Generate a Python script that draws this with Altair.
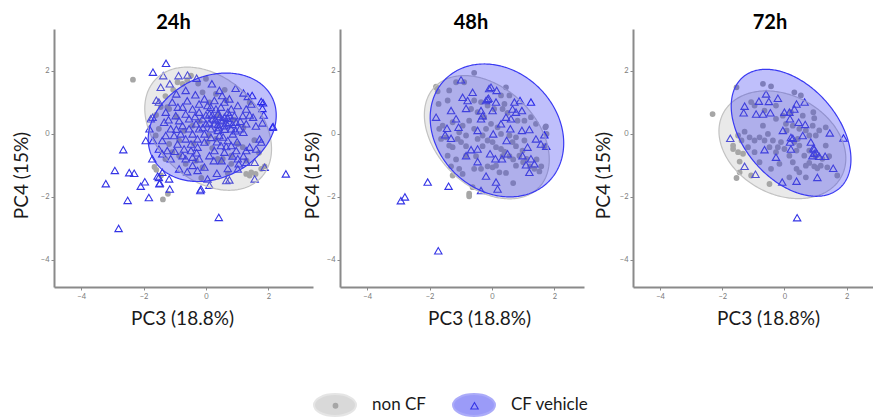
import numpy as np
import pandas as pd
import altair as alt

GROUPS = ["non CF", "CF vehicle"]
PT_KEYS = ["p_nonCF", "p_CFveh"]
TIMES = ["24h", "48h", "72h"]

# ---------------- 24h ----------------
nc24_x = [-2.34, -1.59, -1.38, -1.22, -1.44, -1.65, 1.29, 1.40, 1.59, 1.77, 1.88, 0.81, 0.54, 0.38, -0.11,
          -1.18, -1.24, -0.75, -0.91, -0.48, -0.11, 0.32, 0.11, 0.65, 1.40, -1.51, -1.61, -0.86, -0.43, 0.05,
          0.32, 1.02, 1.18, 0.81, -0.32, -0.65, -0.86, -1.08, -1.18, -1.45, 1.45, 0.48, -0.60, -0.25, -1.05,
          -1.30, -1.60, -0.95, -0.20, 0.40, 0.90, 1.20, 1.55, 1.70, 1.30, 0.20, -0.40, -1.30, 0.60, 0.00,
          -0.70, 0.70, -0.15, 0.10]
nc24_y = [1.72, -1.14, -2.08, -1.90, -1.32, -1.05, -1.27, -1.32, -1.27, -1.11, -1.03, -0.95, -0.79, -0.79, -1.06,
          0.79, 0.85, 1.59, 1.64, 1.85, 1.32, 1.27, 1.00, 1.06, 1.00, 0.16, -0.05, -0.21, 0.26, -0.26,
          -0.16, -0.32, -0.42, -0.69, -0.85, -0.95, -0.69, -0.58, -0.32, 0.85, -1.22, -0.85, 1.70, 1.60, 1.40,
          1.20, 0.60, 0.55, 0.40, 0.60, 0.45, 0.20, -0.20, -0.60, -0.85, -0.45, -0.30, -0.80, 1.40, 1.75,
          0.10, -1.25, -1.40, -0.05]
cf24_x = [-1.28, -1.70, -1.37, -0.88, -0.59, -0.30, -1.45, -1.16, -0.95, -0.65, -0.34, 0.19, 0.43, 0.95, 1.20,
          1.48, 1.77, 1.81, 1.85, 1.81, 2.13, 1.72, 1.77, -1.77, -1.81, -1.70, -1.40, -1.08, -0.75, -1.51,
          -1.29, -0.97, -1.34, -1.13, -0.75, -0.54, -0.22, 0.05, 0.27, 0.59, 0.81, 1.02, 1.29, 1.51, 1.29,
          1.08, 0.75, 0.59, 0.38, 0.22, 0.00, -0.22, -0.43, -0.65, -0.91, -1.24, -1.40, -1.13, -0.75, -0.48,
          -0.27, -0.05, 0.16, 0.38, 0.59, 0.86, 0.70, 0.48, 0.27, 0.11, -0.22, -0.43, -0.65, -0.86, -0.27,
          0.05, -0.16, 0.65, 1.02, 1.02, 1.29, 1.56, 1.61, 0.97, 0.81, 0.59, 0.43, 0.81, 0.97, 1.18,
          0.91, 0.70, 0.48, 0.75, 0.52, -0.05, -0.22, -0.43, -0.65, -0.86, -1.02, -0.81, -0.54, -0.32, -0.11,
          0.11, 0.32, 0.27, 0.48, 0.38, 0.16, -0.05, -0.27, -0.48, -0.70, -0.43, -1.29, -1.51, -1.72, -1.40,
          -1.51, -1.18, -1.48, -1.16, 1.88, 1.56, 0.75, 2.56, 2.15, 1.83, 1.34, -0.18, 0.41, 0.11, 1.29,
          1.40, -2.65, -2.92, -3.21, -2.46, -2.30, -2.09, -1.96, -2.51, -2.80, -1.83, -1.55, -1.49, -1.93, -1.71,
          -1.59, 0.55, 0.65, 0.45, 0.70, 0.30, 0.60, 0.85, 0.40, 0.20, 0.75, 0.95, 1.10, 0.10, -0.10,
          0.00, 0.55, 0.35, 1.00, 1.20, 0.65, -0.35, 0.15, 1.40, 1.45, 1.60, -0.60, -0.90, -1.20, -0.95,
          -0.30, 0.25, 0.50, 0.85, 1.20, 1.05, 0.70, 0.35, -0.05, -0.60, -1.00]
cf24_y = [2.24, 1.96, 1.85, 1.85, 1.87, 1.77, 1.48, 1.59, 1.27, 1.38, 1.24, 1.59, 1.38, 1.45, 1.30,
          1.22, 1.03, 0.81, 0.60, 0.35, 0.21, -0.16, -0.26, 0.48, 0.16, -0.21, -0.21, 1.01, 0.85, 1.01,
          0.69, 0.58, 0.37, 0.16, 0.26, 0.48, 0.69, 0.90, 1.06, 1.01, 0.79, 0.90, 0.79, 0.53, 0.32,
          0.16, 0.37, 0.53, 0.63, 0.48, 0.32, 0.16, 0.00, -0.16, -0.32, -0.53, -0.63, -0.79, -0.69, -0.53,
          -0.42, -0.26, -0.11, 0.11, 0.26, 0.00, -0.21, -0.37, -0.53, -0.69, -0.79, -1.00, -0.79, -1.11, -1.16,
          -1.43, -1.75, -1.48, -0.79, -1.11, -0.53, -0.90, -0.48, -0.53, -0.37, -0.58, -0.05, 0.16, 0.37, 0.58,
          0.58, 0.69, 0.85, 1.11, 1.22, 1.11, 0.95, 0.79, 0.63, 0.42, -0.05, 0.00, 0.16, 0.32, 0.48,
          0.63, 0.79, 0.32, 0.42, 0.30, 0.16, 0.00, -0.16, -0.32, -0.48, -0.74, -0.05, -0.48, -0.79, -1.22,
          -1.38, -1.43, -1.56, -1.75, -1.06, -1.43, -1.46, -1.27, 0.23, 0.99, 1.19, -1.80, -2.65, -1.63, -0.90,
          -0.42, -0.50, -1.16, -1.58, -1.23, -1.25, -1.66, -1.52, -2.11, -3.00, -2.02, -1.34, -1.58, -0.21, 0.53,
          1.07, 0.45, 0.35, 0.55, 0.50, 0.45, 0.15, 0.30, 0.20, 0.60, 0.60, 0.10, 0.40, 0.35, 0.20,
          0.60, -0.10, -0.25, -0.25, 0.05, -0.40, 0.55, 0.85, 0.60, 0.95, 0.25, 1.05, 0.85, 0.45, 0.15,
          -0.60, -0.85, -0.85, -0.70, -0.70, -0.95, -1.10, -1.25, -1.05, -1.20, -0.55]

# ---------------- 48h ----------------
nc48_x = [-0.57, -1.79, -1.74, -1.15, -0.89, -1.37, 0.45, 0.56, 0.29, 0.40, -1.42, -1.71, -1.69, -1.58, -1.63,
          -1.47, -1.37, -1.26, -1.10, -0.99, -0.83, -0.73, -0.57, -0.30, -0.19, -0.14, 0.02, 0.13, 0.29, 0.40,
          0.34, 0.56, 0.68, 0.77, 0.88, 1.00, 1.11, 1.22, 1.36, 1.52, 1.58, 1.43, 1.71, 1.75, 1.68,
          1.04, 0.77, 0.56, 0.29, 0.18, -0.03, -0.25, -0.46, -0.67, -0.57, -0.35, -0.14, 0.07, 0.34, 0.50,
          0.82, 1.04, 1.25, 1.41, -1.05, -1.26, -0.94, -0.57, -0.35, -0.14, 0.02, 0.24, 0.45, 0.68, -0.73,
          -0.62, -1.31, -1.15, -1.42, -0.83, -0.51, -1.05, -0.94, -1.26, -0.30, -0.83, 0.77, 0.98, 0.66, 0.13,
          -0.46, -0.73, 1.73, -1.79]
nc48_y = [1.94, 1.48, 1.35, 1.64, 1.64, 1.38, 1.48, 1.22, 1.22, 0.95, 1.06, 0.95, 0.16, 0.26, -0.16,
          -0.11, -0.37, -0.42, -0.16, -0.26, -0.05, 0.42, 0.16, -0.05, 0.16, -0.21, -0.26, -0.42, -0.48, -0.56,
          -0.71, -0.71, -0.81, -1.01, -0.69, -0.90, -0.79, -1.03, -1.11, -1.19, -1.03, -0.81, 0.21, 0.00, -0.39,
          -0.21, -0.11, -0.05, 0.00, 0.21, 0.32, 0.53, 0.69, 0.79, 1.06, 1.01, 0.90, 0.79, 0.79, 0.67,
          0.42, 0.42, 0.53, 0.32, -1.11, -1.32, -1.27, -1.11, -1.11, -1.03, -1.06, -1.22, -1.24, -1.56, -1.90,
          -1.69, -1.03, -0.81, -0.69, -0.69, -0.71, 0.05, 0.26, 0.37, -0.39, -0.39, -0.39, -0.53, -0.26, -1.01,
          -0.16, -1.98, 0.24, 1.50]
cf48_x = [-0.99, -0.03, 0.15, -0.62, -0.94, -0.78, -0.14, -0.19, -0.11, 0.13, 0.72, 0.90, 1.25, -1.31, -0.83,
          -0.35, 0.02, 0.66, 0.77, 0.96, -1.79, -1.15, -0.30, -0.35, 0.45, 0.61, -1.44, -1.07, -0.46, 0.04,
          0.29, 0.59, 0.96, 1.20, 1.41, 1.68, 1.57, 1.74, -1.50, -1.31, 0.47, 1.14, -0.67, -0.46, -0.06,
          -0.83, 0.11, 0.32, 0.50, 0.98, 1.25, -0.46, 1.09, 1.36, -0.19, 1.20, 0.13, 0.18, -0.35, -2.06,
          -1.39, -2.92, -2.79, -1.72, -0.09]
cf48_y = [1.72, 1.48, 1.38, 1.32, 1.16, 1.06, 1.10, 1.06, 1.13, 1.01, 1.01, 1.06, 1.01, 0.74, 0.81,
          0.74, 0.74, 0.79, 0.69, 0.74, 0.53, 0.48, 0.58, 0.48, 0.53, 0.48, 0.18, 0.21, 0.11, 0.00,
          0.32, 0.16, 0.11, 0.14, -0.16, -0.03, -0.32, -0.39, -0.03, -0.14, -0.21, -0.42, -0.50, -0.48, -0.63,
          -0.69, -0.79, -0.79, -0.63, -0.69, -0.79, -0.88, -0.98, -0.95, -1.34, -1.22, -1.53, -1.75, -1.80, -1.53,
          -1.66, -2.12, -2.00, -3.71, 1.44]

# ---------------- 72h ----------------
nc72_x = [-0.69, -0.43, -1.54, 0.32, 0.53, -1.07, -0.96, -0.27, 0.93, 0.96, -2.31, -0.69, -1.28, -1.49, -1.12,
          -0.96, -0.80, -0.64, -0.53, -0.48, -0.37, -0.21, -0.11, -0.27, 0.00, 0.16, 0.27, 0.39, 0.39, 0.64,
          0.69, 0.80, 0.96, 1.06, 1.17, 1.38, 1.70, 1.33, 1.12, 1.33, 1.01, 0.80, 0.69, 0.48, 0.27,
          0.07, -1.65, -1.65, -1.49, -1.33, -1.44, -1.44, -1.54, -1.07, -0.48, 0.16, 0.48, 0.69, -0.43, -0.16,
          -0.80, -0.96, -1.17, -0.27, -0.64, -1.38, -0.05, 0.05, 0.59, 0.91, 0.32, 0.48, 0.80, 1.01, 1.22,
          1.44, 0.21, 0.43]
nc72_y = [1.59, 1.51, 1.48, 1.32, 1.22, 1.01, 0.90, 0.90, 0.69, 0.50, 0.63, 0.26, 0.07, -0.05, -0.11,
          -0.21, -0.11, -0.21, 0.00, -0.42, -0.21, -0.42, -0.26, -0.58, -0.48, -0.69, -0.90, -0.53, -1.11, -0.69,
          -1.01, -0.92, -1.03, -1.09, -1.01, -1.06, -1.32, -0.37, 0.11, 0.21, -0.05, -0.05, 0.11, 0.16, 0.26,
          0.11, -0.37, -0.48, -0.58, -0.63, -0.88, -1.22, -1.40, -1.32, -1.59, -1.38, -1.22, -1.38, -1.11, -0.95,
          -0.90, -0.58, -0.42, 0.48, 0.74, -0.21, 0.58, 0.32, 0.58, 0.26, -0.26, -0.37, -0.53, -0.71, -0.79,
          -0.71, 0.69, -0.16]
cf72_x = [-0.59, -0.82, -0.50, -0.21, -1.28, -1.31, -0.91, -0.69, -0.45, 0.00, 0.16, 0.39, 0.32, 0.65, 0.18,
          0.46, 0.67, -0.05, 0.21, 0.18, 0.59, 0.85, 0.96, 1.03, 0.90, 1.12, 1.31, 1.46, 1.90, -1.74,
          -0.64, -0.27, 0.21, 1.57, -1.28, -0.93, -0.07, 0.39, 1.06, 0.41, 0.27, 0.93, 0.96]
cf72_y = [1.27, 1.04, 1.03, 1.13, 0.88, 0.67, 0.63, 0.63, 0.67, 0.69, 0.69, 0.95, 0.79, 1.01, 0.48,
          0.37, 0.30, 0.11, -0.11, -0.26, -0.05, -0.26, -0.48, -0.60, -0.69, -0.71, -0.71, 0.03, -0.13, -0.14,
          -0.50, -0.74, -0.48, -1.09, -1.03, -1.28, -1.53, -1.50, -1.38, -2.66, -0.14, -0.45, -0.62]

points = {
    "24h": (nc24_x, nc24_y, cf24_x, cf24_y),
    "48h": (nc48_x, nc48_y, cf48_x, cf48_y),
    "72h": (nc72_x, nc72_y, cf72_x, cf72_y),
}

# ellipse parameters: [non CF, CF vehicle]
ell_cx = {"24h": [0.07, 0.20], "48h": [-0.165, 0.16], "72h": [-0.065, 0.215]}
ell_cy = {"24h": [0.165, 0.21], "48h": [-0.105, 0.11], "72h": [-0.345, 0.035]}
ell_a = {"24h": [2.30, 2.14], "48h": [2.31, 2.32], "72h": [2.15, 2.35]}
ell_b = {"24h": [1.63, 1.61], "48h": [1.58, 1.91], "72h": [1.57, 1.50]}
ell_deg = {"24h": [-41.7, 25.6], "48h": [-43.2, -42.9], "72h": [-27.5, -48.1]}

# panel layout
x_domains = {"24h": [-4.87, 3.43], "48h": [-4.87, 2.95], "72h": [-4.87, 2.85]}
widths = {"24h": 259, "48h": 244, "72h": 240}
y_domain = [-4.86, 3.33]
HEIGHT = 258
title_dx = {"24h": -10, "48h": 9, "72h": 17}
xtitle_x = {"24h": 128, "48h": 139, "72h": 135}
ytitle_x = {"24h": -23, "48h": -18, "72h": -20}

FONT = "Lato"


def ellipse_frame(cx, cy, a, b, deg, group, n=160):
    th = np.radians(deg)
    c, s = np.cos(th), np.sin(th)
    A = c * c / a ** 2 + s * s / b ** 2
    B = 2 * s * c * (1 / a ** 2 - 1 / b ** 2)
    C = s * s / a ** 2 + c * c / b ** 2
    xm = np.sqrt(4 * C / (4 * A * C - B * B))
    X = -xm * np.cos(np.linspace(0, np.pi, n))
    disc = np.clip(B * B * X * X - 4 * C * (A * X * X - 1), 0, None)
    yu = (-B * X + np.sqrt(disc)) / (2 * C)
    yl = (-B * X - np.sqrt(disc)) / (2 * C)
    return pd.DataFrame({"x": cx + X, "y": cy + yu, "y2": cy + yl, "group": group})


ELL_PATH = "M -1 0 A 1 0.52 0 1 1 1 0 A 1 0.52 0 1 1 -1 0 Z"

ell_legend = alt.Legend(
    title=None, orient="none", direction="horizontal",
    legendX=259, legendY=354,
    symbolType=ELL_PATH, symbolSize=1764, symbolStrokeWidth=2, symbolOpacity=0.42,
    labelFont=FONT, labelFontSize=17, labelColor="#1a1a1a", labelOffset=15,
    columnPadding=23, zindex=0,
)
pt_legend = alt.Legend(
    title=None, orient="none", direction="horizontal",
    legendX=273, legendY=368,
    labelFont=FONT, labelFontSize=17, labelOpacity=0, labelOffset=0,
    labelExpr="''",
    columnPadding=122, zindex=1, symbolOpacity=1,
)

fill_scale = alt.Scale(domain=GROUPS, range=["#a6a6a6", "#1414f0"])
stroke_scale = alt.Scale(domain=GROUPS, range=["#c2c2c2", "#3a3af2"])


def panel(t):
    ncx, ncy, cfx, cfy = points[t]
    xs = alt.Scale(domain=x_domains[t], nice=False, zero=False)
    ys = alt.Scale(domain=y_domain, nice=False, zero=False)
    xax = alt.Axis(title="PC3 (18.8%)", values=[-4, -2, 0, 2], titleX=xtitle_x[t], titleY=22)
    yax = alt.Axis(title="PC4 (15%)", values=[-4, -2, 0, 2], titleX=ytitle_x[t], titleY=146)

    pts = pd.concat([
        pd.DataFrame({"x": ncx, "y": ncy, "grp": PT_KEYS[0]}),
        pd.DataFrame({"x": cfx, "y": cfy, "grp": PT_KEYS[1]}),
    ], ignore_index=True)
    pt_layer = alt.Chart(pts).mark_point(filled=False, opacity=1).encode(
        x=alt.X("x:Q", scale=xs, axis=xax),
        y=alt.Y("y:Q", scale=ys, axis=yax),
        shape=alt.Shape("grp:N", scale=alt.Scale(domain=PT_KEYS, range=["circle", "triangle-up"]),
                        legend=pt_legend),
        color=alt.Color("grp:N", scale=alt.Scale(domain=PT_KEYS, range=["#a6a6a6", "#3434e6"]),
                        legend=pt_legend),
        size=alt.Size("grp:N", scale=alt.Scale(domain=PT_KEYS, range=[9, 55]), legend=pt_legend),
        strokeWidth=alt.StrokeWidth("grp:N", scale=alt.Scale(domain=PT_KEYS, range=[2.8, 1.1]),
                                    legend=pt_legend),
    )

    ells = []
    for i, g in enumerate(GROUPS):
        df = ellipse_frame(ell_cx[t][i], ell_cy[t][i], ell_a[t][i], ell_b[t][i], ell_deg[t][i], g)
        ells.append(alt.Chart(df).mark_area(fillOpacity=0.27 if i else 0.25, strokeWidth=1.2).encode(
            x=alt.X("x:Q", scale=xs, axis=xax),
            y=alt.Y("y:Q", scale=ys, axis=yax),
            y2="y2:Q",
            fill=alt.Fill("group:N", scale=fill_scale, legend=ell_legend),
            stroke=alt.Stroke("group:N", scale=stroke_scale, legend=ell_legend),
        ))
    return alt.layer(pt_layer, *ells).properties(
        width=widths[t], height=HEIGHT,
        title=alt.TitleParams(t, fontSize=20, fontWeight="bold", font=FONT, color="#000000",
                              anchor="middle", frame="group", dx=title_dx[t], offset=-4),
    )


p1, p2, p3 = (panel(t) for t in TIMES)
inner = alt.hconcat(p1, p2, spacing=27, bounds="flush")
chart = alt.hconcat(inner, p3, spacing=10).resolve_scale(
    fill="shared", stroke="shared", shape="shared", color="shared", size="shared", strokeWidth="shared"
).properties(
    padding={"left": 4, "top": 5, "right": 0, "bottom": 0}
).configure_view(stroke=None).configure_axis(
    grid=False, domainColor="#8a8a8a", domainWidth=2, tickColor="#8a8a8a", tickSize=3, tickWidth=1,
    labelColor="#7a7a7a", labelFontSize=7.5, labelFont=FONT, labelPadding=2,
    titleFont=FONT, titleFontSize=19, titleFontWeight="normal", titleColor="#1a1a1a",
)

chart.save("out.html", embed_options={"renderer": "svg", "actions": False})
